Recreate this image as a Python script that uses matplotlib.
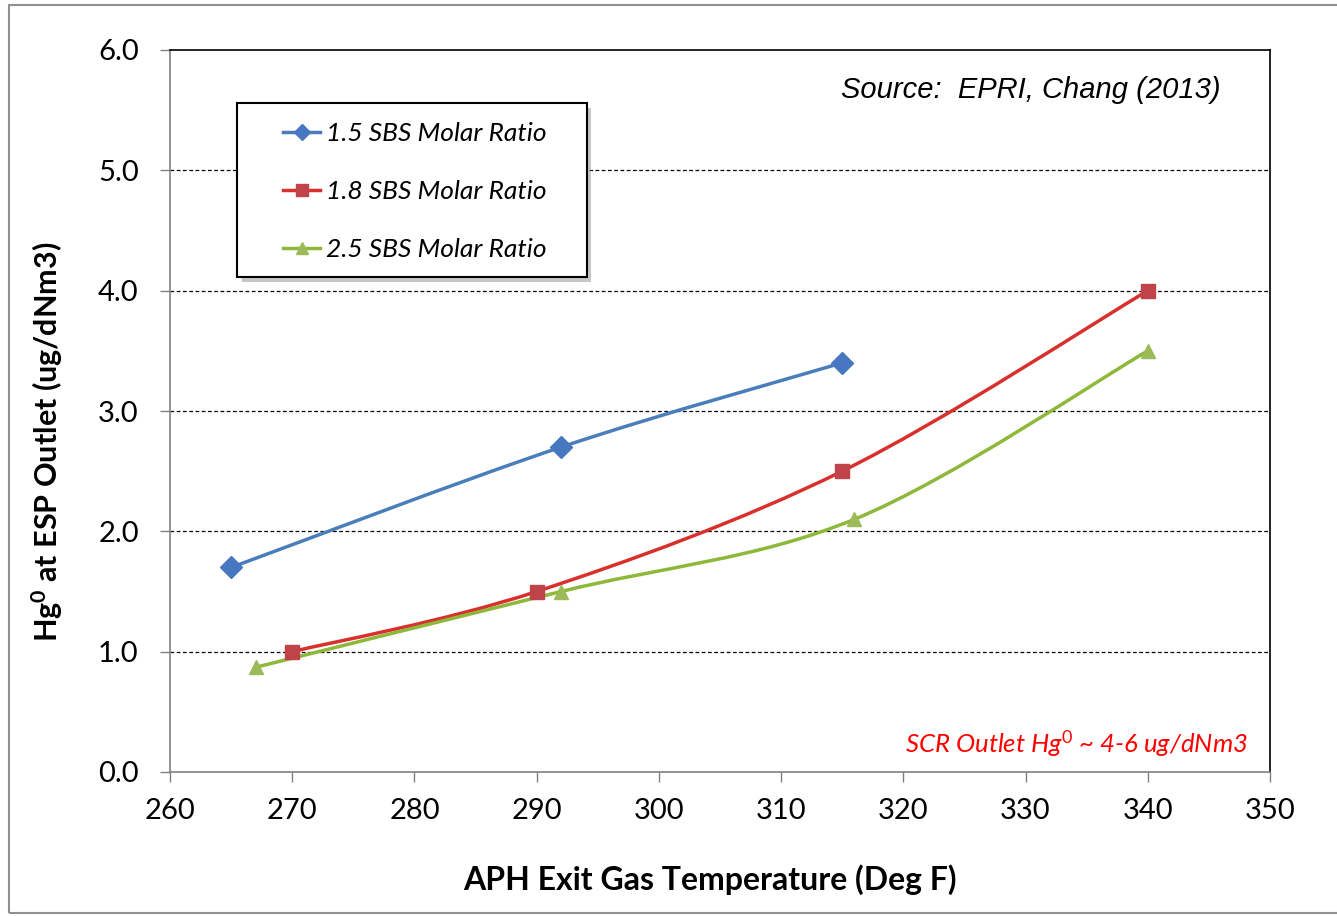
import numpy as np
import matplotlib
matplotlib.use("Agg")
import matplotlib.pyplot as plt
from matplotlib.path import Path
from matplotlib.patches import PathPatch, Rectangle
from matplotlib.lines import Line2D

plt.rcParams['font.family'] = ['Lato', 'DejaVu Sans']
plt.rcParams['mathtext.fontset'] = 'custom'
plt.rcParams['mathtext.rm'] = 'Lato'
plt.rcParams['mathtext.it'] = 'Lato:italic'
plt.rcParams['mathtext.bf'] = 'Lato:bold'

# dados
temp_15 = [265, 292, 315]
hg_15 = [1.7, 2.7, 3.4]
temp_18 = [270, 290, 315, 340]
hg_18 = [1.0, 1.5, 2.5, 4.0]
temp_25 = [267, 292, 316, 340]
hg_25 = [0.87, 1.5, 2.1, 3.5]
labels = ["1.5 SBS Molar Ratio", "1.8 SBS Molar Ratio", "2.5 SBS Molar Ratio"]

xticks = [260, 270, 280, 290, 300, 310, 320, 330, 340, 350]
yticks = [0.0, 1.0, 2.0, 3.0, 4.0, 5.0, 6.0]

line_cores = ['#4A7EBB', '#D8302C', '#8DB83A']
marker_cores = ['#4677C0', '#C0434A', '#9BBB59']
markers = ['D', 's', '^']
msizes = [11, 10, 10]


def curva_suave(x, y):
    # curva tipo Excel (catmull-rom -> bezier)
    p = np.column_stack([x, y]).astype(float)
    verts = [p[0]]
    codes = [Path.MOVETO]
    n = len(p)
    for i in range(n - 1):
        p0 = p[i - 1] if i > 0 else p[i]
        p1 = p[i]
        p2 = p[i + 1]
        p3 = p[i + 2] if i + 2 < n else p[i + 1]
        c1 = p1 + (p2 - p0) / 6.0
        c2 = p2 - (p3 - p1) / 6.0
        verts += [c1, c2, p2]
        codes += [Path.CURVE4] * 3
    return Path(verts, codes)


fig = plt.figure(figsize=(13.37, 9.16), dpi=100)
ax = fig.add_axes([170 / 1337, 1 - 772 / 916, 1100 / 1337, 722 / 916])

series = [(temp_15, hg_15), (temp_18, hg_18), (temp_25, hg_25)]
for i, (xs, ys) in enumerate(series):
    patch = PathPatch(curva_suave(xs, ys), fill=False, edgecolor=line_cores[i],
                      linewidth=2.5, transform=ax.transData, zorder=3)
    ax.add_patch(patch)
    ax.plot(xs, ys, linestyle='none', marker=markers[i], markersize=msizes[i],
            color=marker_cores[i], zorder=4)

ax.set_xlim(260, 350)
ax.set_ylim(0, 6)
ax.set_xticks(xticks)
ax.set_yticks(yticks)
ax.set_yticklabels([f"{v:.1f}" for v in yticks])
ax.tick_params(axis='both', labelsize=21, length=7.5, width=1, color='#808080')
ax.tick_params(axis='x', pad=11)
ax.tick_params(axis='y', pad=15)

for v in yticks[1:-1]:
    ax.axhline(v, color='black', linewidth=0.9, linestyle=(0, (3, 2)), zorder=1)

ax.spines['left'].set_color('#808080')
ax.spines['bottom'].set_color('#808080')
ax.spines['top'].set_color('black')
ax.spines['right'].set_color('black')
for s in ax.spines.values():
    s.set_linewidth(1.2)

ax.set_xlabel("APH Exit Gas Temperature (Deg F)", fontsize=23, fontweight='bold')
ax.set_ylabel(r"Hg$^{\mathbf{0}}$ at ESP Outlet (ug/dNm3)", fontsize=22, fontweight='bold')
ax.xaxis.set_label_coords(0.491, -0.128)
ax.yaxis.set_label_coords(-0.095, 0.457)

ax.text(0.955, 0.945, "Source:  EPRI, Chang (2013)", transform=ax.transAxes,
        fontsize=21, style='italic', family=['Liberation Sans', 'DejaVu Sans'],
        ha='right', va='center')
ax.text(0.98, 0.04, r"SCR Outlet Hg$^{\mathit{0}}$ ~ 4-6 ug/dNm3", transform=ax.transAxes,
        fontsize=18.5, style='italic', color='#FF0000', ha='right', va='center')

# moldura da legenda com sombra
ax.add_patch(Rectangle((0.065, 0.678), 0.318, 0.241, transform=ax.transAxes,
                       facecolor='#A0A0A0', edgecolor='none', zorder=5, alpha=0.6))
ax.add_patch(Rectangle((0.061, 0.686), 0.318, 0.241, transform=ax.transAxes,
                       facecolor='white', edgecolor='black', linewidth=1.5, zorder=6))

handles = []
for i in range(3):
    handles.append(Line2D([], [], color=line_cores[i], linewidth=2.5, marker=markers[i],
                          markersize=8, markerfacecolor=marker_cores[i],
                          markeredgecolor=marker_cores[i]))
leg = ax.legend(handles, labels, loc='upper left', bbox_to_anchor=(0.103, 0.90),
                frameon=False, borderpad=0, borderaxespad=0, handlelength=1.4,
                handletextpad=0.2, labelspacing=1.32, prop={'size': 19, 'style': 'italic'})
leg.set_zorder(7)

# borda da figura
fig.patches.append(Rectangle((9 / 1337, 3 / 916), 1.0, 908 / 916, transform=fig.transFigure,
                             fill=False, edgecolor='#909090', linewidth=1.5))

plt.savefig('out.png', dpi=100)
plt.close()
